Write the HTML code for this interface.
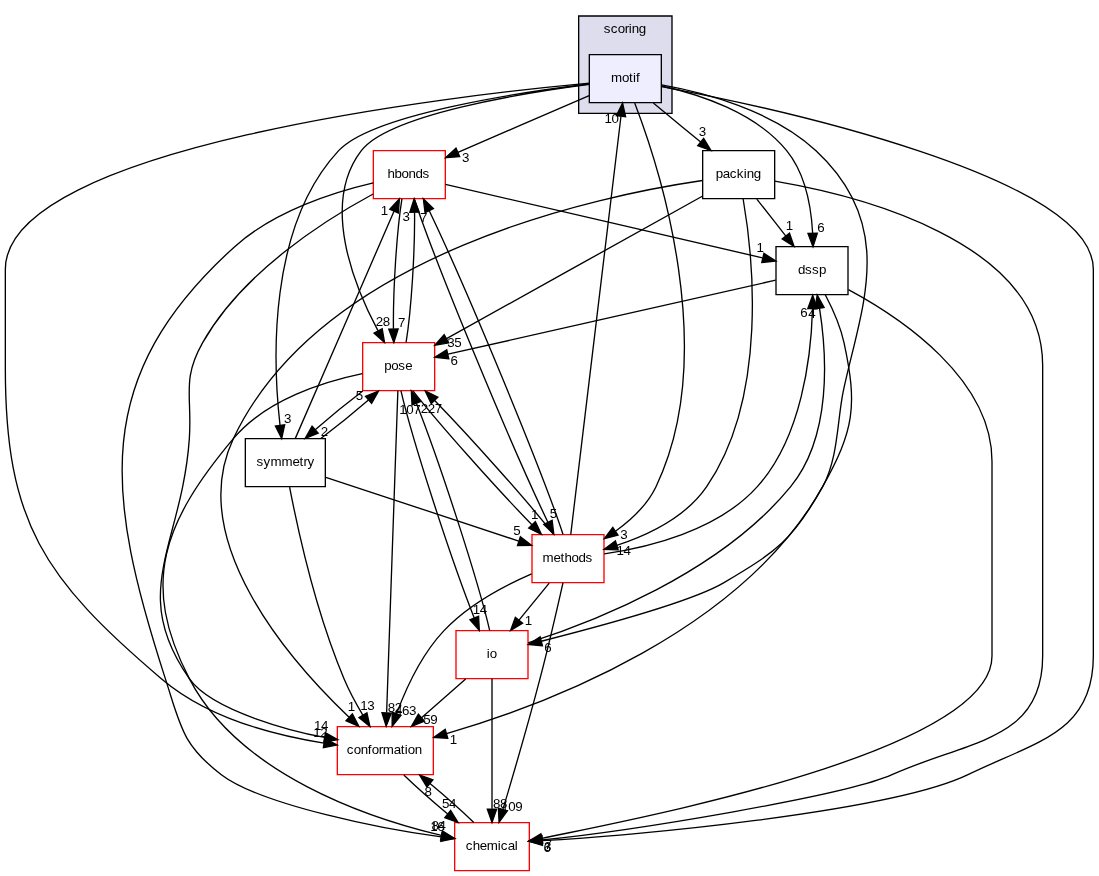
<!DOCTYPE html>
<html lang="en">
<head>
<meta charset="utf-8">
<title>motif directory dependency graph</title>
<style>
html,body{margin:0;padding:0;background:#fff;}
svg{display:block;will-change:transform;}
svg text{font-family:"Liberation Sans",sans-serif;font-size:10px;fill:#000;}
</style>
</head>
<body>
<svg width="1099" height="876" viewBox="0 0 824.25 657">
<g class="graph" transform="scale(1 1) rotate(0) translate(4 653)">
<polygon fill="white" stroke="none" points="-4,4 -4,-653 820,-653 820,4 -4,4"/>
<g class="cluster">
<polygon fill="#ddddee" stroke="black" points="430,-568 430,-641 500,-641 500,-568 430,-568"/>
<text x="448.88 454.13 459.38 464.63 467.63 469.88 475.13" y="-628.4">scoring</text>
</g>
<g class="node">
<polygon fill="#eeeeff" stroke="black" points="492,-612 438,-612 438,-576 492,-576 492,-612"/>
<text x="454.17 462.42 467.67 470.67 472.92" y="-591.5">motif</text>
</g>
<g class="node">
<polygon fill="white" stroke="red" points="321,-108 249,-108 249,-72 321,-72 321,-108"/>
<text x="256.1 261.35 266.6 271.85 274.85 280.1 283.1 291.35 296.6 299.6 301.85 307.1" y="-87.5">conformation</text>
</g>
<g class="edge">
<path fill="none" stroke="black" d="M437.99,-590.69C338.75,-581.46 0,-543.22 0,-451 0,-451 0,-451 0,-377 0,-261.12 28.78,-219.14 117,-144 151.48,-114.63 202.28,-101.51 238.98,-95.66"/>
<polygon fill="black" stroke="black" points="239.55,-99.11 248.94,-94.2 238.53,-92.19 239.55,-99.11"/>
<text x="230.85 236.1" y="-99.95">12</text>
</g>
<g class="node">
<polygon fill="white" stroke="red" points="330,-540 276,-540 276,-504 330,-504 330,-540"/>
<text x="286.6 291.85 297.1 302.35 307.6 312.85" y="-519.5">hbonds</text>
</g>
<g class="edge">
<path fill="none" stroke="black" d="M437.88,-581.28C410.9,-569.62 369.32,-551.65 339.45,-538.75"/>
<polygon fill="black" stroke="black" points="340.77,-535.51 330.2,-534.75 338,-541.93 340.77,-535.51"/>
<text x="342.42" y="-531.83">3</text>
</g>
<g class="node">
<polygon fill="none" stroke="black" points="577,-540 523,-540 523,-504 577,-504 577,-540"/>
<text x="532.77 538.02 543.27 548.52 553.77 556.02 561.27" y="-519.5">packing</text>
</g>
<g class="edge">
<path fill="none" stroke="black" d="M486.01,-575.7C496.72,-566.88 509.89,-556.03 521.5,-546.47"/>
<polygon fill="black" stroke="black" points="523.74,-549.16 529.23,-540.1 519.29,-543.76 523.74,-549.16"/>
<text x="519.99" y="-551.14">3</text>
</g>
<g class="node">
<polygon fill="none" stroke="black" points="240,-324 180,-324 180,-288 240,-288 240,-324"/>
<text x="188.33 193.58 198.83 207.08 215.33 220.58 223.58 226.58" y="-303.5">symmetry</text>
</g>
<g class="edge">
<path fill="none" stroke="black" d="M437.75,-589.98C385.78,-583.66 275.41,-567.3 250,-540 196.84,-482.88 200.58,-382.09 206.02,-334"/>
<polygon fill="black" stroke="black" points="209.5,-334.39 207.26,-324.04 202.55,-333.53 209.5,-334.39"/>
<text x="209.09" y="-335.81">3</text>
</g>
<g class="node">
<polygon fill="white" stroke="red" points="393,-36 337,-36 337,0 393,0 393,-36"/>
<text x="345.27 350.52 355.77 361.02 369.27 371.52 376.77 382.02" y="-15.5">chemical</text>
</g>
<g class="edge">
<path fill="none" stroke="black" d="M492.25,-588.09C574.72,-572.46 816,-520.76 816,-451 816,-451 816,-451 816,-161 816,-103.47 773.74,-97.17 722,-72 664.34,-43.95 465.47,-25.46 402.59,-22.56"/>
<polygon fill="black" stroke="black" points="402.43,-26.06 392.60,-22.10 402.75,-19.06 402.43,-26.06"/>
<text x="403.69" y="-13.9">6</text>
</g>
<g class="node">
<polygon fill="none" stroke="black" points="632,-468 578,-468 578,-432 632,-432 632,-468"/>
<text x="594.44 599.69 604.94 610.19" y="-447.5">dssp</text>
</g>
<g class="edge">
<path fill="none" stroke="black" d="M492.21,-588.51C520.04,-582.45 562.45,-568.88 586,-540 600.09,-522.72 604.42,-497.46 605.47,-478.25"/>
<polygon fill="black" stroke="black" points="608.97,-478.12 605.75,-468.03 601.98,-477.93 608.97,-478.12"/>
<text x="608.93" y="-479.29">6</text>
</g>
<g class="node">
<polygon fill="white" stroke="red" points="322,-396 268,-396 268,-360 322,-360 322,-396"/>
<text x="284.16 289.41 294.66 299.91" y="-375.5">pose</text>
</g>
<g class="edge">
<path fill="none" stroke="black" d="M437.96,-589.8C388.77,-583.36 287.8,-567.1 267,-540 236.68,-500.5 261.09,-439.49 279.44,-405.03"/>
<polygon fill="black" stroke="black" points="282.63,-406.5 284.41,-396.05 276.5,-403.11 282.63,-406.5"/>
<text x="277.81 283.06" y="-408.52">28</text>
</g>
<g class="node">
<polygon fill="white" stroke="red" points="392,-180 338,-180 338,-144 392,-144 392,-180"/>
<text x="361.11 363.36" y="-159.5">io</text>
</g>
<g class="edge">
<path fill="none" stroke="black" d="M492.24,-589.29C523.69,-583.7 575.3,-570.34 608,-540 669.54,-482.90 641.67,-421.88 628.54,-360 623.90,-338.12 624.68,-308.93 613,-288 590.64,-247.93 578.51,-239.34 539,-216 515.73,-202.25 445.79,-183.19 401.99,-172.07"/>
<polygon fill="black" stroke="black" points="402.82,-168.67 392.27,-169.63 401.11,-175.46 402.82,-168.67"/>
<text x="404.22" y="-164.3">6</text>
</g>
<g class="node">
<polygon fill="white" stroke="red" points="449,-252 395,-252 395,-216 449,-216 449,-252"/>
<text x="402.82 411.07 416.32 419.32 424.57 429.82 435.07" y="-231.5">methods</text>
</g>
<g class="edge">
<path fill="none" stroke="black" d="M472.03,-575.71C490.51,-527.36 535.87,-387.83 488,-288 481.51,-274.46 469.68,-263.28 457.81,-254.74"/>
<polygon fill="black" stroke="black" points="459.49,-251.65 449.24,-248.99 455.6,-257.47 459.49,-251.65"/>
<text x="461.28" y="-248.8">3</text>
</g>
<g class="edge">
<path fill="none" stroke="black" d="M298.86,-71.7C308.03,-62.88 320.26,-52.03 331.76,-42.47"/>
<polygon fill="black" stroke="black" points="334.03,-45.14 339.56,-36.1 329.6,-39.72 334.03,-45.14"/>
<text x="327.48 332.73" y="-47.11">54</text>
</g>
<g class="edge">
<path fill="none" stroke="black" d="M275.83,-507.52C239.99,-488.18 177.97,-448.95 148,-396 132.09,-367.88 140.23,-356.23 138,-324 132.48,-244.19 92.01,-209.46 138,-144 155.60,-118.94 219.62,-103.45 239.50,-99.94"/>
<polygon fill="black" stroke="black" points="238.89,-96.49 249.35,-98.20 240.11,-103.38 238.89,-96.49"/>
<text x="231.5 236.75" y="-105.3">14</text>
</g>
<g class="edge">
<path fill="none" stroke="black" d="M275.97,-515.84C247.22,-509.14 201.85,-494.98 172,-468 63.79,-370.22 75.16,-282.78 120,-144 131.39,-108.75 132.49,-94.39 162,-72 192.28,-49.02 286.14,-30.46 327.06,-25.38"/>
<polygon fill="black" stroke="black" points="326.62,-21.91 336.98,-24.15 327.49,-28.86 326.62,-21.91"/>
<text x="318.71 323.96" y="-29.63">16</text>
</g>
<g class="edge">
<path fill="none" stroke="black" d="M330.07,-514.73C384.26,-502.16 506.18,-473.91 567.82,-459.62"/>
<polygon fill="black" stroke="black" points="568.93,-462.95 577.89,-457.28 567.35,-456.13 568.93,-462.95"/>
<text x="563.29" y="-464.03">1</text>
</g>
<g class="edge">
<path fill="none" stroke="black" d="M297.45,-503.87C293.53,-479.67 290.73,-435.21 291.08,-406.39"/>
<polygon fill="black" stroke="black" points="294.59,-406.29 291.38,-396.19 287.59,-406.08 294.59,-406.29"/>
<text x="294.54" y="-407.46">7</text>
</g>
<g class="edge">
<path fill="none" stroke="black" d="M306.67,-503.97C322.44,-455.99 378.99,-319.5 406.83,-261.54"/>
<polygon fill="black" stroke="black" points="410.1,-262.83 411.36,-252.31 403.82,-259.74 410.1,-262.83"/>
<text x="408.29" y="-264.8">5</text>
</g>
<g class="edge">
<path fill="none" stroke="black" d="M522.81,-517.64C447.48,-506.63 237.29,-463.89 171,-324 134.71,-247.41 213.39,-157.51 257.61,-115.26"/>
<polygon fill="black" stroke="black" points="260.26,-117.57 265.17,-108.17 255.48,-112.46 260.26,-117.57"/>
<text x="256.8" y="-119.59">1</text>
</g>
<g class="edge">
<path fill="none" stroke="black" d="M577.05,-517.13C637.44,-506.81 778,-472.73 778,-379 778,-379 778,-379 778,-161 778,-97.07 723.35,-98.13 665,-72 629.03,-55.89 468.42,-29.68 402.55,-23.09"/>
<polygon fill="black" stroke="black" points="402.20,-26.58 392.60,-22.10 402.90,-19.61 402.20,-26.58"/>
<text x="403.98" y="-14.65">3</text>
</g>
<g class="edge">
<path fill="none" stroke="black" d="M563.6,-503.7C570.12,-495.39 578.07,-485.28 585.25,-476.14"/>
<polygon fill="black" stroke="black" points="588.13,-478.13 591.56,-468.1 582.63,-473.81 588.13,-478.13"/>
<text x="585.37" y="-480.21">1</text>
</g>
<g class="edge">
<path fill="none" stroke="black" d="M522.71,-505.8C476.41,-480.02 382.48,-427.72 330.91,-398.99"/>
<polygon fill="black" stroke="black" points="332.53,-395.89 322.09,-394.09 329.13,-402.01 332.53,-395.89"/>
<text x="331.49 336.74" y="-392.66">35</text>
</g>
<g class="edge">
<path fill="none" stroke="black" d="M553.34,-503.93C560.42,-462.7 572.68,-356.08 526,-288 510.36,-265.19 481.83,-251.63 458.6,-243.95"/>
<polygon fill="black" stroke="black" points="459.61,-240.6 449.03,-241.01 457.56,-247.29 459.61,-240.6"/>
<text x="458.32 463.57" y="-236.44">14</text>
</g>
<g class="edge">
<path fill="none" stroke="black" d="M213.2,-287.59C219.05,-257.51 232.89,-194.22 254,-144 257.88,-134.76 263.09,-125.16 268.14,-116.71"/>
<polygon fill="black" stroke="black" points="271.2,-118.42 273.47,-108.07 265.24,-114.74 271.2,-118.42"/>
<text x="266.17 271.42" y="-120.47">13</text>
</g>
<g class="edge">
<path fill="none" stroke="black" d="M217.49,-324.23C233.71,-361.56 272.19,-450.09 291.51,-494.56"/>
<polygon fill="black" stroke="black" points="288.35,-496.07 295.55,-503.85 294.77,-493.28 288.35,-496.07"/>
<text x="281.53" y="-491.41">1</text>
</g>
<g class="edge">
<path fill="none" stroke="black" d="M236.66,-324.1C248.14,-332.8 261.34,-343.52 272.34,-353.03"/>
<polygon fill="black" stroke="black" points="270.09,-355.71 279.9,-359.7 274.71,-350.46 270.09,-355.71"/>
<text x="262.73" y="-352.97">5</text>
</g>
<g class="edge">
<path fill="none" stroke="black" d="M240.37,-294.97C278.56,-282.36 344.06,-260.74 385.09,-247.19"/>
<polygon fill="black" stroke="black" points="386.31,-250.47 394.71,-244.01 384.12,-243.82 386.31,-250.47"/>
<text x="381.01" y="-251.79">5</text>
</g>
<g class="edge">
<path fill="none" stroke="black" d="M351.35,-36.1C342.23,-44.89 330.01,-55.73 318.5,-65.31"/>
<polygon fill="black" stroke="black" points="316.22,-62.66 310.69,-71.7 320.65,-68.08 316.22,-62.66"/>
<text x="314.42" y="-55.68">8</text>
</g>
<g class="edge">
<path fill="none" stroke="black" d="M614.95,-431.98C620.27,-421.89 626.27,-408.64 629,-396 639.24,-348.57 636.64,-330.38 613,-288 552.6,-179.74 405.96,-124.63 330.91,-102.71"/>
<polygon fill="black" stroke="black" points="331.82,-99.33 321.25,-99.96 329.9,-106.06 331.82,-99.33"/>
<text x="333.28" y="-95.09">1</text>
</g>
<g class="edge">
<path fill="none" stroke="black" d="M632.32,-435.78C671.77,-414.56 740,-368.91 740,-307 740,-307 740,-307 740,-161 740,-87.88 466.21,-37.93 402.38,-24.20"/>
<polygon fill="black" stroke="black" points="401.64,-27.62 392.60,-22.10 403.11,-20.78 401.64,-27.62"/>
<text x="404.44" y="-16.27">7</text>
</g>
<g class="edge">
<path fill="none" stroke="black" d="M577.76,-442.85C522.06,-430.27 395.07,-401.6 331.99,-387.35"/>
<polygon fill="black" stroke="black" points="332.59,-383.9 322.07,-385.11 331.05,-390.73 332.59,-383.9"/>
<text x="333.94" y="-379.42">6</text>
</g>
<g class="edge">
<path fill="none" stroke="black" d="M294.4,-359.97C292.74,-312.29 288.01,-177.18 285.97,-118.63"/>
<polygon fill="black" stroke="black" points="289.45,-118.18 285.61,-108.31 282.46,-118.42 289.45,-118.18"/>
<text x="286.86 292.11" y="-119.17">82</text>
</g>
<g class="edge">
<path fill="none" stroke="black" d="M300.56,-396.19C304.48,-420.42 307.27,-464.89 306.91,-493.68"/>
<polygon fill="black" stroke="black" points="303.41,-493.77 306.62,-503.87 310.41,-493.98 303.41,-493.77"/>
<text x="297.9" y="-487.6">3</text>
</g>
<g class="edge">
<path fill="none" stroke="black" d="M268.07,-359.7C256.57,-350.97 243.38,-340.24 232.41,-330.75"/>
<polygon fill="black" stroke="black" points="234.69,-328.09 224.87,-324.1 230.06,-333.34 234.69,-328.09"/>
<text x="236.48" y="-325.84">2</text>
</g>
<g class="edge">
<path fill="none" stroke="black" d="M267.75,-372.75C239.32,-366.85 195.54,-353.37 171,-324 118.85,-261.59 100.58,-216.21 138,-144 175.33,-71.95 272.75,-39.37 327.05,-26.42"/>
<polygon fill="black" stroke="black" points="328.01,-29.79 336.98,-24.15 326.45,-22.96 328.01,-29.79"/>
<text x="319.58 324.83" y="-30.85">84</text>
</g>
<g class="edge">
<path fill="none" stroke="black" d="M296.73,-359.85C305.36,-322.6 334.07,-234.07 351.68,-189.54"/>
<polygon fill="black" stroke="black" points="354.94,-190.81 355.48,-180.23 348.46,-188.17 354.94,-190.81"/>
<text x="350.66 355.91" y="-192.71">14</text>
</g>
<g class="edge">
<path fill="none" stroke="black" d="M305.73,-359.87C325.49,-334.82 367.1,-288.05 394.93,-259.41"/>
<polygon fill="black" stroke="black" points="397.51,-261.77 402.04,-252.19 392.53,-256.86 397.51,-261.77"/>
<text x="394.24" y="-263.82">1</text>
</g>
<g class="edge">
<path fill="none" stroke="black" d="M345.22,-143.7C335.25,-134.97 322.99,-124.24 312.14,-114.75"/>
<polygon fill="black" stroke="black" points="314.38,-112.06 304.55,-108.1 309.77,-117.32 314.38,-112.06"/>
<text x="313.39 318.64" y="-109.79">59</text>
</g>
<g class="edge">
<path fill="none" stroke="black" d="M365,-143.87C365,-119.67 365,-75.21 365,-46.39"/>
<polygon fill="black" stroke="black" points="368.5,-46.19 365,-36.19 361.5,-46.19 368.5,-46.19"/>
<text x="365.78 371.03" y="-47.28">88</text>
</g>
<g class="edge">
<path fill="none" stroke="black" d="M392.05,-170.82C439.02,-185.76 535.72,-222.84 589,-288 619.94,-325.83 616.21,-386.62 610.65,-421.67"/>
<polygon fill="black" stroke="black" points="607.18,-421.22 608.9,-431.67 614.07,-422.42 607.18,-421.22"/>
<text x="602.22" y="-414.69">4</text>
</g>
<g class="edge">
<path fill="none" stroke="black" d="M363.25,-180.23C354.59,-217.56 325.88,-306.09 308.28,-350.56"/>
<polygon fill="black" stroke="black" points="305.02,-349.27 304.49,-359.85 311.51,-351.91 305.02,-349.27"/>
<text x="295.41 300.66 305.91" y="-342.37">107</text>
</g>
<g class="edge">
<path fill="none" stroke="black" d="M424.05,-252.09C430.93,-309.38 453.22,-494.9 461.69,-565.44"/>
<polygon fill="black" stroke="black" points="458.26,-566.22 462.93,-575.73 465.21,-565.39 458.26,-566.22"/>
<text x="449.45 454.7" y="-560.49">10</text>
</g>
<g class="edge">
<path fill="none" stroke="black" d="M394.71,-222.62C374.49,-213.81 347.36,-199.47 329,-180 312.26,-162.25 300.58,-136.91 293.48,-117.81"/>
<polygon fill="black" stroke="black" points="296.72,-116.47 290.1,-108.2 290.12,-118.79 296.72,-116.47"/>
<text x="292.25 297.5 302.75" y="-116.41">463</text>
</g>
<g class="edge">
<path fill="none" stroke="black" d="M418.24,-252.31C402.32,-300.61 345.74,-437.13 318.01,-494.78"/>
<polygon fill="black" stroke="black" points="314.77,-493.45 313.5,-503.97 321.05,-496.53 314.77,-493.45"/>
<text x="311.02" y="-486.47">7</text>
</g>
<g class="edge">
<path fill="none" stroke="black" d="M418.22,-215.88C414.19,-197.91 407.51,-168.88 401,-144 392.1,-110.01 380.72,-71.17 373.17,-45.93"/>
<polygon fill="black" stroke="black" points="376.51,-44.89 370.28,-36.32 369.8,-46.9 376.51,-44.89"/>
<text x="371.92 377.17 382.42" y="-45.01">109</text>
</g>
<g class="edge">
<path fill="none" stroke="black" d="M449.19,-237.65C481.31,-242.26 534.12,-254.71 564,-288 597.52,-325.35 604.42,-386.31 605.39,-421.52"/>
<polygon fill="black" stroke="black" points="601.89,-421.62 605.53,-431.57 608.89,-421.52 601.89,-421.62"/>
<text x="596.23" y="-415.56">6</text>
</g>
<g class="edge">
<path fill="none" stroke="black" d="M411.22,-252.19C391.42,-277.28 349.81,-324.05 322,-352.66"/>
<polygon fill="black" stroke="black" points="319.43,-350.29 314.9,-359.87 324.41,-355.2 319.43,-350.29"/>
<text x="311.59 316.84 322.09" y="-343.24">227</text>
</g>
<g class="edge">
<path fill="none" stroke="black" d="M407.91,-215.7C401.08,-207.3 392.74,-197.07 385.24,-187.86"/>
<polygon fill="black" stroke="black" points="387.96,-185.65 378.93,-180.1 382.53,-190.07 387.96,-185.65"/>
<text x="389.65" y="-184.14">1</text>
</g>
</g>
</svg>
</body>
</html>
